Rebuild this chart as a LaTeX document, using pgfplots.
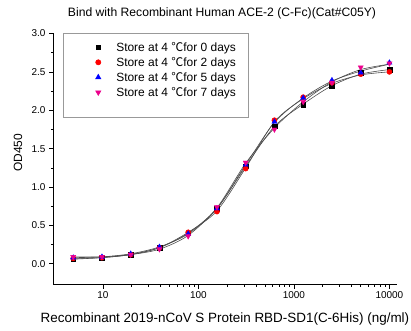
\documentclass[border=0pt]{standalone}
\usepackage{fontspec}
\setmainfont{Liberation Sans}
\newfontfamily\cjk{Noto Sans CJK SC}
\usepackage{pgfplots}
\pgfplotsset{compat=1.18}
\newcommand{\degC}{{\cjk ℃}}
\begin{document}
\begin{tikzpicture}
\useasboundingbox (0,0) rectangle (411bp,331bp);
\begin{axis}[
  at={(53bp,46.5bp)}, anchor=south west,
  scale only axis, width=344bp, height=251bp,
  xmode=log, xmin=3, xmax=12000,
  ymin=-0.27, ymax=3.0,
  axis x line*=bottom, axis y line*=left,
  axis line style={line width=0.6pt, -},
  tick align=outside,
  major tick length=4bp, minor tick length=2.2bp,
  every tick/.style={line width=0.6pt, black},
  xtick={10,100,1000,10000},
  xticklabels={10,100,1000,10000},
  ytick={0,0.5,1,1.5,2,2.5,3},
  minor y tick num=1,
  yticklabel style={/pgf/number format/.cd, fixed, fixed zerofill, precision=1},
  /pgf/number format/assume math mode=true,
  tick label style={font=\fontsize{10}{12}\selectfont},
  title={Bind with Recombinant Human ACE-2 (C-Fc)(Cat\#C05Y)},
  title style={font=\fontsize{12.2}{14}\selectfont, at={(axis description cs:0.5,1)}, anchor=center, yshift=14.5bp, xshift=-3bp},
  xlabel={Recombinant 2019-nCoV S Protein RBD-SD1(C-6His) (ng/ml)},
  xlabel style={font=\fontsize{13.5}{15}\selectfont, at={(axis description cs:0.5,0)}, anchor=center, yshift=-34.5bp},
  ylabel={OD450},
  ylabel style={font=\fontsize{12}{14}\selectfont, at={(axis description cs:-0.1017,0.524)}, anchor=center},
  legend style={at={(axis description cs:0.029,1.002)}, anchor=north west, draw=black!40, line width=0.6pt,
    font=\fontsize{12}{14}\selectfont, row sep=0pt, inner xsep=9bp, inner ysep=6.5bp,
    nodes={inner xsep=3bp, inner ysep=2.2bp}, legend cell align=left},
  legend image code/.code={\path[draw=none,fill=none] (0bp,0bp) -- (41bp,0bp); \draw[#1, only marks] plot coordinates {(26bp,0bp)};},
  clip=false,
]
% fitted curves
\addplot[black!70, line width=0.6pt, smooth, forget plot] coordinates {
(4.883,0.06)(9.766,0.08)(19.53,0.12)(39.06,0.21)(78.13,0.40)(156.25,0.72)(312.5,1.27)(625,1.79)(1250,2.08)(2500,2.32)(5000,2.47)(10000,2.53)};
\addplot[black!70, line width=0.6pt, smooth, forget plot] coordinates {
(4.883,0.07)(9.766,0.08)(19.53,0.12)(39.06,0.21)(78.13,0.41)(156.25,0.69)(312.5,1.25)(625,1.85)(1250,2.15)(2500,2.35)(5000,2.46)(10000,2.50)};
\addplot[black!70, line width=0.6pt, smooth, forget plot] coordinates {
(4.883,0.08)(9.766,0.09)(19.53,0.13)(39.06,0.22)(78.13,0.39)(156.25,0.72)(312.5,1.29)(625,1.84)(1250,2.16)(2500,2.38)(5000,2.51)(10000,2.60)};
\addplot[black!70, line width=0.6pt, smooth, forget plot] coordinates {
(4.883,0.09)(9.766,0.09)(19.53,0.12)(39.06,0.19)(78.13,0.37)(156.25,0.73)(312.5,1.31)(625,1.77)(1250,2.11)(2500,2.37)(5000,2.53)(10000,2.60)};
% markers
\addplot[only marks, mark=square*, mark size=2.3pt, black, mark options={fill=black}] coordinates {
(4.883,0.06)(9.766,0.08)(19.53,0.12)(39.06,0.21)(78.13,0.40)(156.25,0.72)(312.5,1.27)(625,1.79)(1250,2.07)(2500,2.32)(5000,2.49)(10000,2.53)};
\addlegendentry{Store at 4 \degC for 0 days}
\addplot[only marks, mark=*, mark size=2.6pt, red, mark options={fill=red}] coordinates {
(4.883,0.07)(9.766,0.08)(19.53,0.12)(39.06,0.21)(78.13,0.41)(156.25,0.68)(312.5,1.24)(625,1.87)(1250,2.17)(2500,2.36)(5000,2.47)(10000,2.50)};
\addlegendentry{Store at 4 \degC for 2 days}
\addplot[only marks, mark=triangle*, mark size=3pt, blue, mark options={fill=blue}] coordinates {
(4.883,0.08)(9.766,0.09)(19.53,0.13)(39.06,0.22)(78.13,0.39)(156.25,0.72)(312.5,1.29)(625,1.85)(1250,2.16)(2500,2.39)(5000,2.49)(10000,2.62)};
\addlegendentry{Store at 4 \degC for 5 days}
\addplot[only marks, mark=triangle*, mark size=3pt, magenta, mark options={fill=magenta, rotate=180}] coordinates {
(4.883,0.09)(9.766,0.09)(19.53,0.12)(39.06,0.19)(78.13,0.36)(156.25,0.74)(312.5,1.32)(625,1.75)(1250,2.11)(2500,2.36)(5000,2.56)(10000,2.61)};
\addlegendentry{Store at 4 \degC for 7 days}
\addlegendimage{empty legend}
\addlegendentry{\rule{0pt}{5pt}}
\end{axis}
\end{tikzpicture}
\end{document}
